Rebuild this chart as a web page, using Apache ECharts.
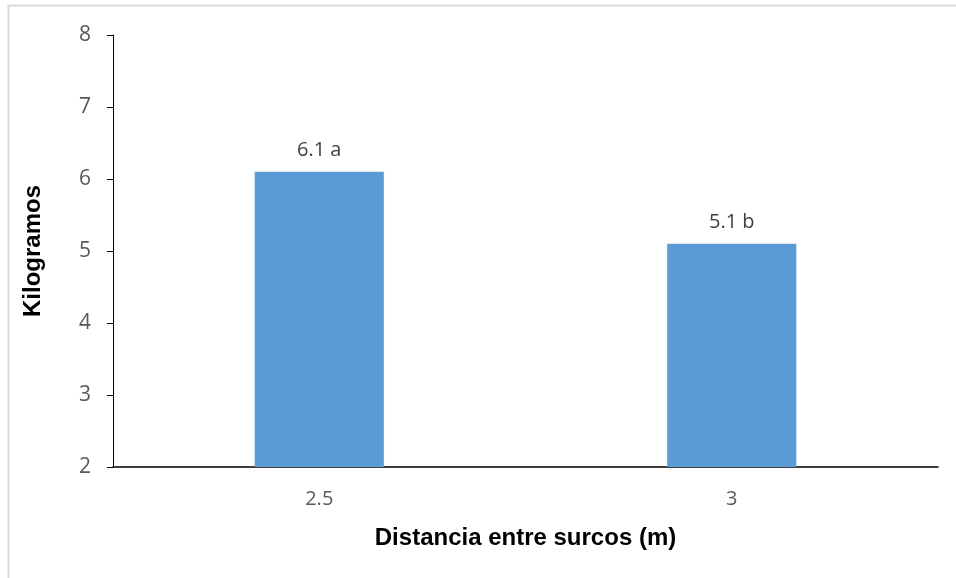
<!DOCTYPE html>
<html>
<head>
<meta charset="utf-8">
<style>
  html, body { margin: 0; padding: 0; background: #fff; }
  #chart { width: 956px; height: 578px; }
</style>
<script src="https://cdn.jsdelivr.net/npm/echarts@6/dist/echarts.min.js"></script>
</head>
<body>
<div id="chart"></div>
<script>
// Row spacing categories and mean yield per plant
const categories = ['2.5', '3'];
const values = [6.1, 5.1];
const groupLetters = ['a', 'b'];
const yTicks = [2, 3, 4, 5, 6, 7, 8];

const chart = echarts.init(document.getElementById('chart'), null, { renderer: 'canvas' });

const tickFont = "'Open Sans', 'Noto Sans', sans-serif";
const titleFont = "'Liberation Sans', Arial, sans-serif";

chart.setOption({
  animation: false,
  backgroundColor: '#ffffff',
  graphic: [{
    type: 'rect',
    shape: { x: 8.5, y: 5.5, width: 1000, height: 1000 },
    style: { fill: 'none', stroke: '#d9d9d9', lineWidth: 2 },
    silent: true
  }],
  grid: { left: 113, top: 35, right: 18, bottom: 111, containLabel: false },
  xAxis: {
    type: 'category',
    data: categories,
    name: 'Distancia entre surcos (m)',
    nameLocation: 'middle',
    nameGap: 59,
    nameTextStyle: { fontFamily: titleFont, fontWeight: 'bold', fontSize: 24, color: '#000', verticalAlign: 'top' },
    axisLine: { lineStyle: { color: '#000', width: 1.5 } },
    axisTick: { show: false },
    axisLabel: { fontFamily: tickFont, fontSize: 20, color: '#595959', margin: 22 },
    splitLine: { show: false }
  },
  yAxis: {
    type: 'value',
    min: yTicks[0],
    max: yTicks[yTicks.length - 1],
    interval: 1,
    name: 'Kilogramos',
    nameLocation: 'middle',
    nameGap: 68,
    nameRotate: 90,
    nameTextStyle: { fontFamily: titleFont, fontWeight: 'bold', fontSize: 24, color: '#000' },
    axisLine: { show: true, lineStyle: { color: '#000', width: 1 } },
    axisTick: { show: true, length: 6, lineStyle: { color: '#000' } },
    axisLabel: { fontFamily: tickFont, fontSize: 21, color: '#595959', margin: 22 },
    splitLine: { show: false }
  },
  series: [{
    type: 'bar',
    data: values,
    barWidth: '31.3%',
    itemStyle: { color: '#5b9bd5' },
    label: {
      show: true,
      position: 'top',
      distance: 12,
      fontFamily: tickFont,
      fontSize: 20,
      color: '#404040',
      formatter: p => p.value.toFixed(1) + ' ' + groupLetters[p.dataIndex]
    }
  }]
});
</script>
</body>
</html>
